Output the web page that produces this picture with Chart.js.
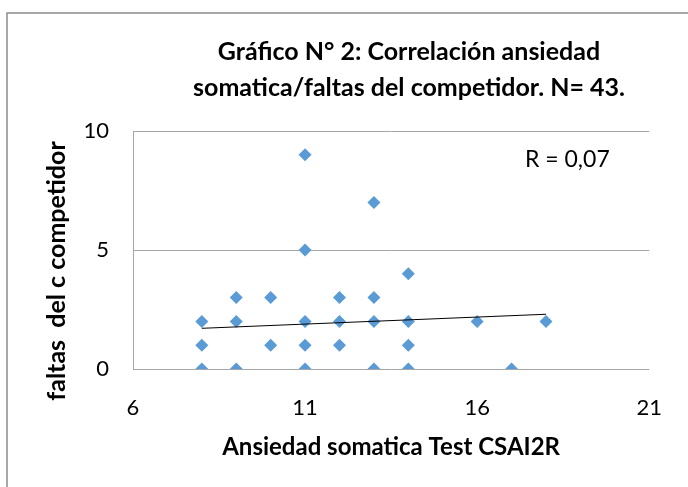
<!DOCTYPE html>
<html>
<head>
<meta charset="utf-8">
<script src="https://cdn.jsdelivr.net/npm/chart.js@4.4.1/dist/chart.umd.min.js"></script>
<style>
  html, body { margin: 0; padding: 0; background: #ffffff; }
  #wrap { width: 688px; height: 487px; position: relative; }
</style>
</head>
<body>
<div id="wrap"><canvas id="chart" width="688" height="487"></canvas></div>
<script>
// valores
const ansiedad = [8, 8, 8, 9, 9, 9, 10, 10, 11, 11, 11, 11, 11, 12, 12, 12, 13, 13, 13, 13, 14, 14, 14, 14, 16, 17, 18];
const faltas = [2, 1, 0, 3, 2, 0, 3, 1, 9, 5, 2, 1, 0, 3, 2, 1, 7, 3, 2, 0, 4, 2, 1, 0, 2, 0, 2];
const trend_x = [8, 18];
const trend_y = [1.71, 2.3];
const x_ticks = [6, 11, 16, 21];
const y_ticks = [0, 5, 10];

const title_lines = ['Gráfico N° 2: Correlación ansiedad', 'somatica/faltas del competidor. N= 43.'];
const r_label = 'R = 0,07';
const x_title = 'Ansiedad somatica Test CSAI2R';
const y_title = 'faltas  del c competidor';

const font_family = 'Lato, "Open Sans", sans-serif';
const blue = '#5B9BD5';
const grid_color = '#A6A6A6';

const points = ansiedad.map((v, i) => ({ x: v, y: faltas[i] }));
const trend = trend_x.map((v, i) => ({ x: v, y: trend_y[i] }));

// marco, titulo, titulo del eje y y etiqueta R
const decor = {
  id: 'decor',
  beforeDraw(chart) {
    const c = chart.ctx;
    c.save();
    c.strokeStyle = '#8C8C8C';
    c.lineWidth = 1.5;
    c.beginPath();
    c.moveTo(7, 487);
    c.lineTo(7, 13);
    c.lineTo(688, 13);
    c.stroke();
    c.restore();
  },
  afterDraw(chart) {
    const c = chart.ctx;
    const area = chart.chartArea;
    c.save();
    c.fillStyle = '#000000';
    c.textAlign = 'center';
    c.textBaseline = 'middle';
    c.font = 'bold 25px ' + font_family;
    c.fillText(title_lines[0], 409, 52);
    c.fillText(title_lines[1], 409, 88);

    c.save();
    c.translate(57, 271);
    c.rotate(-Math.PI / 2);
    c.fillText(y_title, 0, 0);
    c.restore();

    c.textAlign = 'left';
    c.font = '23px ' + font_family;
    c.fillText(r_label, area.left + 392, area.top + 29);
    c.restore();
  },
};

new Chart(document.getElementById('chart'), {
  type: 'scatter',
  data: {
    datasets: [
      {
        data: points,
        pointStyle: 'rectRot',
        pointRadius: 6.5,
        pointHoverRadius: 6.5,
        pointBackgroundColor: blue,
        pointBorderColor: blue,
        pointBorderWidth: 0,
        order: 2,
      },
      {
        type: 'line',
        data: trend,
        borderColor: '#000000',
        borderWidth: 1,
        pointRadius: 0,
        fill: false,
        order: 1,
      },
    ],
  },
  options: {
    responsive: false,
    animation: false,
    events: [],
    layout: {
      padding: { top: 131, right: 37, bottom: 0, left: 0 },
    },
    plugins: {
      legend: { display: false },
      tooltip: { enabled: false },
    },
    scales: {
      x: {
        type: 'linear',
        min: 6,
        max: 21,
        afterBuildTicks: (scale) => {
          scale.ticks = x_ticks.map((v) => ({ value: v }));
        },
        afterFit: (scale) => {
          scale.height = 118;
        },
        grid: { display: false, drawTicks: false },
        border: { display: false },
        ticks: {
          padding: 26,
          color: '#000000',
          font: { family: font_family, size: 22 },
        },
        title: {
          display: true,
          text: x_title,
          color: '#000000',
          padding: 25.5,
          font: { family: font_family, size: 24, weight: 'bold' },
        },
      },
      y: {
        type: 'linear',
        min: 0,
        max: 10,
        afterBuildTicks: (scale) => {
          scale.ticks = y_ticks.map((v) => ({ value: v }));
        },
        afterFit: (scale) => {
          scale.width = 133;
        },
        grid: { color: grid_color, lineWidth: 1, drawTicks: false },
        border: { display: true, color: grid_color, width: 1 },
        ticks: {
          padding: 24,
          color: '#000000',
          font: { family: font_family, size: 22 },
        },
      },
    },
  },
  plugins: [decor],
});
</script>
</body>
</html>
